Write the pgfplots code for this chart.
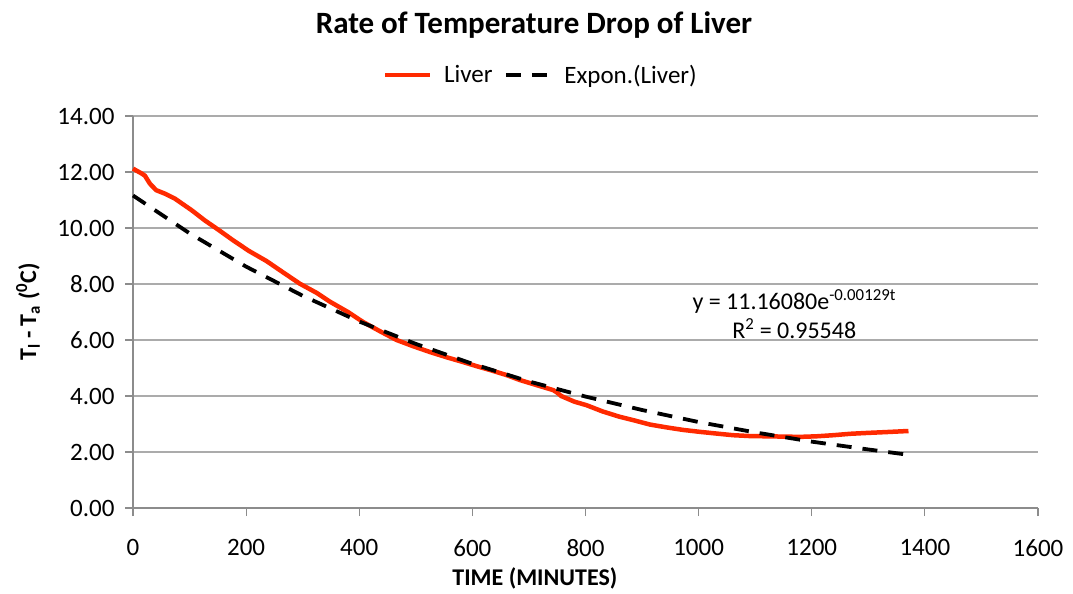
\documentclass[border=0pt]{standalone}
\usepackage{pgfplots}
\pgfplotsset{compat=1.18}
\usepackage{fontspec}
\setmainfont{Carlito}
\definecolor{liverred}{HTML}{FF2A00}
\definecolor{gridgray}{HTML}{ABABAB}
\definecolor{axisgray}{HTML}{8C8C8C}
\begin{document}
\begin{tikzpicture}
\path[use as bounding box] (0,0) rectangle (1073pt,594pt);
\begin{axis}[
  at={(133pt,86pt)}, anchor=south west,
  scale only axis, width=905pt, height=392pt,
  xmin=0, xmax=1600, ymin=0, ymax=14,
  xtick={0,200,...,1600}, ytick={0,2,...,14},
  axis x line*=bottom, axis y line*=left,
  axis line style={axisgray, line width=1.2pt},
  ymajorgrids, grid style={gridgray, line width=1.3pt},
  tick align=outside, major tick length=8pt,
  tick style={axisgray, line width=1.2pt},
  xtick pos=bottom, ytick pos=left,
  /pgf/number format/assume math mode=true,
  /pgf/number format/1000 sep={},
  yticklabel style={/pgf/number format/fixed, /pgf/number format/fixed zerofill, /pgf/number format/precision=2, font=\fontsize{25}{28}\selectfont, xshift=-7pt},
  xticklabel style={font=\fontsize{25}{28}\selectfont, yshift=-20pt},
  xlabel={\bfseries TIME (MINUTES)},
  xlabel style={font=\fontsize{24}{27}\selectfont, at={(axis description cs:0.444,-0.179)}, anchor=center},
  ylabel={\bfseries T\textsubscript{l} - T\textsubscript{a} (\textsuperscript{0}C)},
  ylabel style={font=\fontsize{24}{27}\selectfont, at={(axis description cs:-0.116,0.5)}, anchor=center, rotate=0},
  legend columns=2,
  legend style={at={(axis description cs:0.4505,1.105)}, anchor=center, draw=none, fill=none,
    font=\fontsize{25}{28}\selectfont, column sep=10pt, inner sep=0pt, nodes={inner xsep=1.5pt}},
  legend image code/.code={\draw[#1] (0pt,0pt) -- (45pt,0pt);},
  clip=false,
]
\addplot[liverred, line width=4.5pt, line join=round] coordinates {
(0,12.12) (6,12.05) (15,11.95) (21,11.87) (30,11.58) (41,11.35) (56,11.23) (74,11.05)
(104,10.63) (127,10.27) (150,9.95) (177,9.56) (205,9.18) (236,8.82) (265,8.42) (295,8.01)
(325,7.68) (348,7.37) (380,7.00) (407,6.64) (436,6.32) (466,6.00) (495,5.78) (525,5.57)
(555,5.38) (584,5.21) (610,5.05) (631,4.93) (660,4.75) (684,4.57) (715,4.38) (743,4.21)
(750,4.12) (757,4.00) (780,3.80) (802,3.67) (830,3.45) (860,3.26) (884,3.14) (914,2.98)
(943,2.88) (972,2.79) (1002,2.72) (1031,2.66) (1061,2.60) (1090,2.57) (1120,2.56) (1150,2.55)
(1179,2.54) (1208,2.56) (1238,2.60) (1268,2.65) (1297,2.68) (1330,2.71) (1371,2.75)
};
\addlegendentry{Liver}
\addplot[black, line width=3.8pt, dash pattern=on 15pt off 11pt] coordinates {
(0,11.16) (100,9.81) (200,8.62) (300,7.58) (400,6.66) (500,5.86) (600,5.15) (700,4.52)
(800,3.98) (900,3.50) (1000,3.07) (1100,2.70) (1200,2.37) (1300,2.09) (1371,1.90)
};
\addlegendentry{Expon.(Liver)}
\node[font=\fontsize{24}{27}\selectfont] at (axis cs:1169,7.39) {y = 11.16080e\textsuperscript{-0.00129t}};
\node[font=\fontsize{24}{27}\selectfont] at (axis cs:1169,6.39) {R\textsuperscript{2} = 0.95548};
\end{axis}
\node[font=\fontsize{31}{34}\selectfont\bfseries] at (534pt,569pt) {Rate of Temperature Drop of Liver};
\end{tikzpicture}
\end{document}
